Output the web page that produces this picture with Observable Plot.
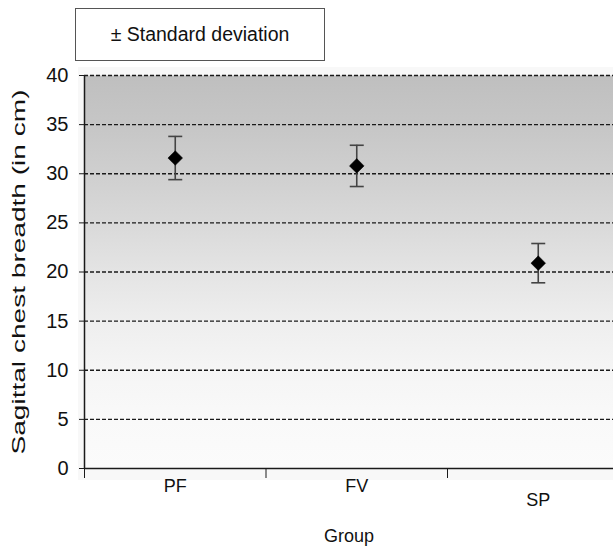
<!DOCTYPE html>
<html>
<head>
<meta charset="utf-8">
<script src="https://cdn.jsdelivr.net/npm/d3@7"></script>
<script src="https://cdn.jsdelivr.net/npm/@observablehq/plot@0.6"></script>
<style>
  body { margin: 0; background: #fff; font-family: "Liberation Sans", Arial, sans-serif; }
  #wrap { width: 613px; height: 550px; position: relative; }
  #legend { height: 62px; position: relative; }
  #legend .box { position: absolute; left: 75px; top: 8px; width: 248px; height: 51px;
    border: 1px solid #555; display: flex; align-items: center; justify-content: center;
    font-size: 19.5px; color: #111; }
</style>
</head>
<body>
<div id="wrap">
  <div id="legend"><div class="box">± Standard deviation</div></div>
  <div id="chart"></div>
</div>
<script>
const groups = ["PF", "FV", "SP"];
const means = [31.6, 30.8, 20.9];
const sds = [2.2, 2.1, 2.0];
const yTicks = [0, 5, 10, 15, 20, 25, 30, 35, 40];
const xLabel = "Group";
const yLabel = "Sagittal chest breadth (in cm)";

const data = groups.map((g, i) => ({g, i, mean: means[i], lo: means[i] - sds[i], hi: means[i] + sds[i]}));

const capSymbol = {
  draw(context) { context.moveTo(-7, 0); context.lineTo(7, 0); }
};

const labelDy = {PF: 18, FV: 18, SP: 32};
const font = "Liberation Sans, Arial, sans-serif";

const plot = Plot.plot({
  width: 613,
  height: 488,
  marginTop: 13,
  marginBottom: 82,
  marginLeft: 84,
  marginRight: 0,
  style: {fontFamily: font, fontSize: "18px", color: "#111", background: "transparent", overflow: "visible"},
  x: {domain: [0, 3], range: [84, 628.5], axis: null},
  y: {domain: [0, 40], axis: null},
  marks: [
    Plot.frame({fill: "url(#bgGrad)", stroke: null}),
    Plot.ruleY(yTicks.filter(d => d > 0), {stroke: "#1a1a1a", strokeWidth: 1.3, strokeDasharray: "4,2"}),
    Plot.ruleX([0], {stroke: "#1a1a1a", strokeWidth: 1.5}),
    Plot.ruleY([0], {stroke: "#1a1a1a", strokeWidth: 1.5}),
    Plot.axisY({ticks: yTicks, tickSize: 5, tickPadding: 11, fontSize: 20, label: null, stroke: "#1a1a1a"}),
    Plot.axisX({ticks: [0, 1, 2], tickSize: 10, tickFormat: () => "", label: null, stroke: "#1a1a1a"}),
    Plot.ruleX(data, {x: d => d.i + 0.5, y1: "lo", y2: "hi", stroke: "#444", strokeWidth: 1.6}),
    Plot.dot(data, {x: d => d.i + 0.5, y: "lo", symbol: capSymbol, stroke: "#444", strokeWidth: 1.6}),
    Plot.dot(data, {x: d => d.i + 0.5, y: "hi", symbol: capSymbol, stroke: "#444", strokeWidth: 1.6}),
    Plot.dot(data, {x: d => d.i + 0.5, y: "mean", symbol: "diamond2", r: 6.6, fill: "#000", stroke: "#000", strokeWidth: 0.5}),
    ...groups.map(g => Plot.text(data.filter(d => d.g === g), {
      x: d => d.i + 0.5, y: 0, text: "g", fontSize: 18, fill: "#111", dy: labelDy[g]
    })),
    Plot.text([xLabel], {frameAnchor: "bottom", dy: 73, fontSize: 18, fill: "#111"}),
    Plot.text([yLabel], {frameAnchor: "left", textAnchor: "middle", rotate: -90, dx: -66, fontSize: 19, fill: "#111"})
  ]
});

const svg = d3.select(plot);
const defs = svg.insert("defs", ":first-child");
const grad = defs.append("linearGradient").attr("id", "bgGrad").attr("x1", 0).attr("y1", 0).attr("x2", 0).attr("y2", 1);
[[0, "#bfbfbf"], [0.125, "#c6c6c6"], [0.25, "#cfcfcf"], [0.375, "#d9d9d9"], [0.5, "#e4e4e4"],
 [0.625, "#eeeeee"], [0.75, "#f5f5f5"], [0.875, "#f9f9f9"], [1, "#fbfbfb"]]
  .forEach(([o, c]) => grad.append("stop").attr("offset", o).attr("stop-color", c));
svg.insert("rect", "defs + *").attr("x", 78).attr("y", 5).attr("width", 535).attr("height", 413).attr("fill", "#f8f8f8");
// stretch the y-axis title to the length seen in the reference
svg.selectAll("text").filter(function() { return this.textContent === yLabel; })
  .attr("textLength", 365).attr("lengthAdjust", "spacingAndGlyphs");

document.getElementById("chart").appendChild(plot);
</script>
</body>
</html>
